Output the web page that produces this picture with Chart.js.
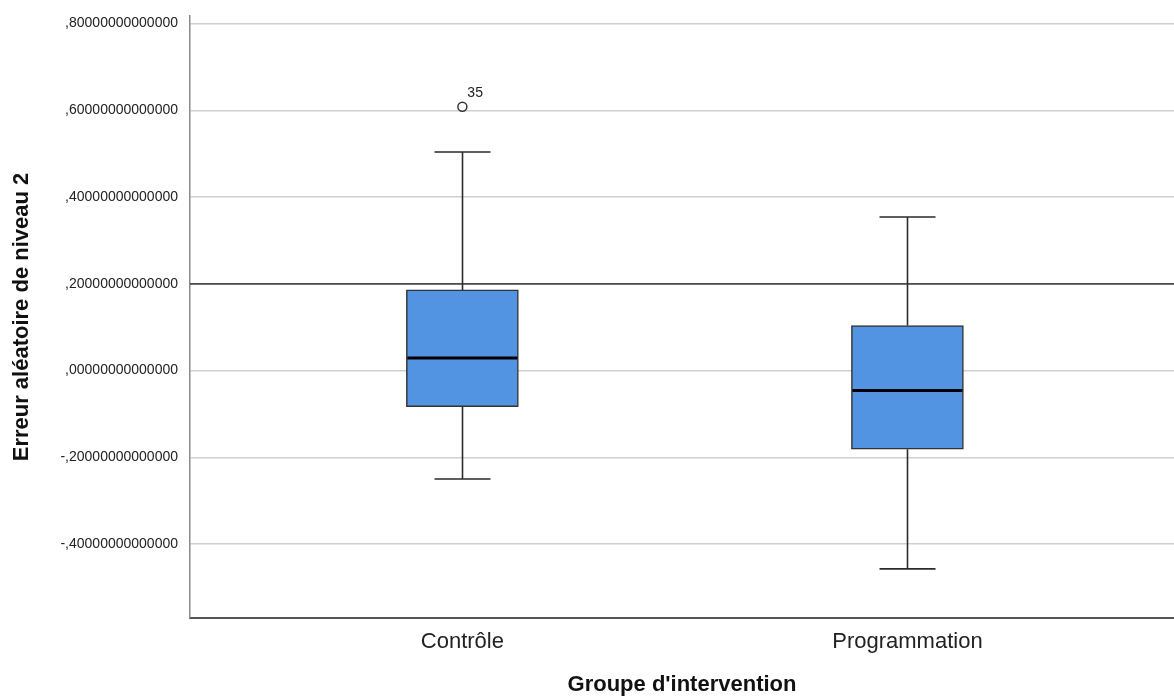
<!DOCTYPE html>
<html>
<head>
<meta charset="utf-8">
<script src="https://cdn.jsdelivr.net/npm/chart.js@4.4.1/dist/chart.umd.min.js"></script>
<style>
  html, body { margin: 0; padding: 0; background: #ffffff; }
  #wrap { width: 1174px; height: 698px; }
</style>
</head>
<body>
<div id="wrap"><canvas id="c" width="1174" height="698"></canvas></div>
<script>
// ---- data ----
const categories = ["Contrôle", "Programmation"];
const categoryPositions = [1, 2];
const whiskerLow  = [-0.250, -0.457];
const q1Values    = [-0.083, -0.181];
const medianValues = [0.029, -0.046];
const q3Values    = [0.186, 0.104];
const whiskerHigh = [0.504, 0.354];
const outlierGroup = [1];
const outlierValues = [0.608];
const outlierLabels = ["35"];
const yTickValues = [-0.4, -0.2, 0, 0.2, 0.4, 0.6, 0.8];
const yTickLabels = ["-,40000000000000", "-,20000000000000", ",00000000000000",
                     ",20000000000000", ",40000000000000", ",60000000000000", ",80000000000000"];
const referenceValue = 0.2;
const xTitle = "Groupe d'intervention";
const yTitle = "Erreur aléatoire de niveau 2";

// ---- styles ----
const FONT = "'Liberation Sans', Arial, sans-serif";
const BOX_FILL = "#5294e2";
const DARK = "#2b2b2b";
const CAP_WIDTH = 56;
const BOX_WIDTH = 112;

const boxData = categoryPositions.map((x, i) => ({ x: x, y: [q1Values[i], q3Values[i]] }));
const outlierData = outlierGroup.map((x, i) => ({ x: x, y: outlierValues[i] }));

const boxPlugin = {
  id: 'boxParts',
  beforeDatasetsDraw(chart) {
    const ctx = chart.ctx, xs = chart.scales.x, ys = chart.scales.y, ca = chart.chartArea;
    const ry = ys.getPixelForValue(referenceValue);
    ctx.save();
    ctx.strokeStyle = "#4a4a4a";
    ctx.lineWidth = 1.6;
    ctx.beginPath();
    ctx.moveTo(ca.left, ry); ctx.lineTo(ca.right, ry);
    ctx.stroke();
    ctx.strokeStyle = DARK;
    ctx.lineWidth = 1.6;
    categoryPositions.forEach((c, i) => {
      const px = Math.round(xs.getPixelForValue(c)) + 0.5;
      const yl = ys.getPixelForValue(whiskerLow[i]);
      const yh = ys.getPixelForValue(whiskerHigh[i]);
      const y1 = ys.getPixelForValue(q1Values[i]);
      const y3 = ys.getPixelForValue(q3Values[i]);
      ctx.beginPath();
      ctx.moveTo(px, yh); ctx.lineTo(px, y3);
      ctx.moveTo(px, y1); ctx.lineTo(px, yl);
      ctx.moveTo(px - CAP_WIDTH / 2, yh); ctx.lineTo(px + CAP_WIDTH / 2, yh);
      ctx.moveTo(px - CAP_WIDTH / 2, yl); ctx.lineTo(px + CAP_WIDTH / 2, yl);
      ctx.stroke();
    });
    ctx.restore();
  },
  afterDatasetsDraw(chart) {
    const ctx = chart.ctx, xs = chart.scales.x, ys = chart.scales.y;
    ctx.save();
    ctx.strokeStyle = "#000000";
    ctx.lineWidth = 3;
    categoryPositions.forEach((c, i) => {
      const px = xs.getPixelForValue(c);
      const ym = ys.getPixelForValue(medianValues[i]);
      ctx.beginPath();
      ctx.moveTo(px - BOX_WIDTH / 2 + 1, ym); ctx.lineTo(px + BOX_WIDTH / 2 - 1, ym);
      ctx.stroke();
    });
    ctx.fillStyle = "#222";
    ctx.font = "14px " + FONT;
    ctx.textAlign = "left";
    ctx.textBaseline = "alphabetic";
    outlierGroup.forEach((c, i) => {
      const px = xs.getPixelForValue(c);
      const py = ys.getPixelForValue(outlierValues[i]);
      ctx.fillText(outlierLabels[i], px + 5, py - 10);
    });
    ctx.restore();
  }
};

new Chart(document.getElementById('c'), {
  data: {
    datasets: [
      {
        type: 'bar',
        data: boxData,
        backgroundColor: BOX_FILL,
        borderColor: "#333333",
        borderWidth: 1.5,
        borderSkipped: false,
        barThickness: BOX_WIDTH,
        order: 2
      },
      {
        type: 'scatter',
        data: outlierData,
        pointStyle: 'circle',
        pointRadius: 4.5,
        pointBackgroundColor: "#ffffff",
        pointBorderColor: "#333333",
        pointBorderWidth: 1.5,
        order: 1
      }
    ]
  },
  options: {
    responsive: false,
    animation: false,
    devicePixelRatio: 1,
    layout: { autoPadding: false, padding: { top: 16, right: 0, left: 0, bottom: 0 } },
    plugins: { legend: { display: false }, tooltip: { enabled: false } },
    scales: {
      x: {
        type: 'linear',
        position: 'bottom',
        offset: false,
        min: 0.388,
        max: 2.599,
        afterBuildTicks(scale) { scale.ticks = categoryPositions.map(v => ({ value: v })); },
        afterFit(scale) { scale.height = 80; scale.paddingLeft = 0; scale.paddingRight = 0; },
        grid: { display: false, drawTicks: false, offset: false },
        border: { display: true, color: "#555555", width: 2 },
        ticks: {
          padding: 11,
          color: "#222",
          font: { family: FONT, size: 22 },
          callback: (v) => categories[categoryPositions.indexOf(v)]
        },
        title: {
          display: true,
          text: xTitle,
          color: "#111",
          font: { family: FONT, size: 22, weight: 'bold' },
          padding: { top: 0, bottom: 0 }
        }
      },
      y: {
        type: 'linear',
        min: -0.5702,
        max: 0.8173,
        afterBuildTicks(scale) { scale.ticks = yTickValues.map(v => ({ value: v })); },
        afterFit(scale) { scale.width = 190; scale.paddingTop = 0; scale.paddingBottom = 0; },
        grid: { color: "#d0d0d0", lineWidth: 1.5, drawTicks: false },
        border: { display: true, color: "#8a8a8a", width: 1.5 },
        ticks: {
          padding: 12,
          color: "#222",
          font: { family: FONT, size: 14 },
          callback: (v) => yTickLabels[yTickValues.findIndex(t => Math.abs(t - v) < 1e-9)]
        },
        title: {
          display: true,
          text: yTitle,
          color: "#111",
          font: { family: FONT, size: 22, weight: 'bold' },
          padding: { top: 9, bottom: 0 }
        }
      }
    }
  },
  plugins: [boxPlugin]
});
</script>
</body>
</html>
